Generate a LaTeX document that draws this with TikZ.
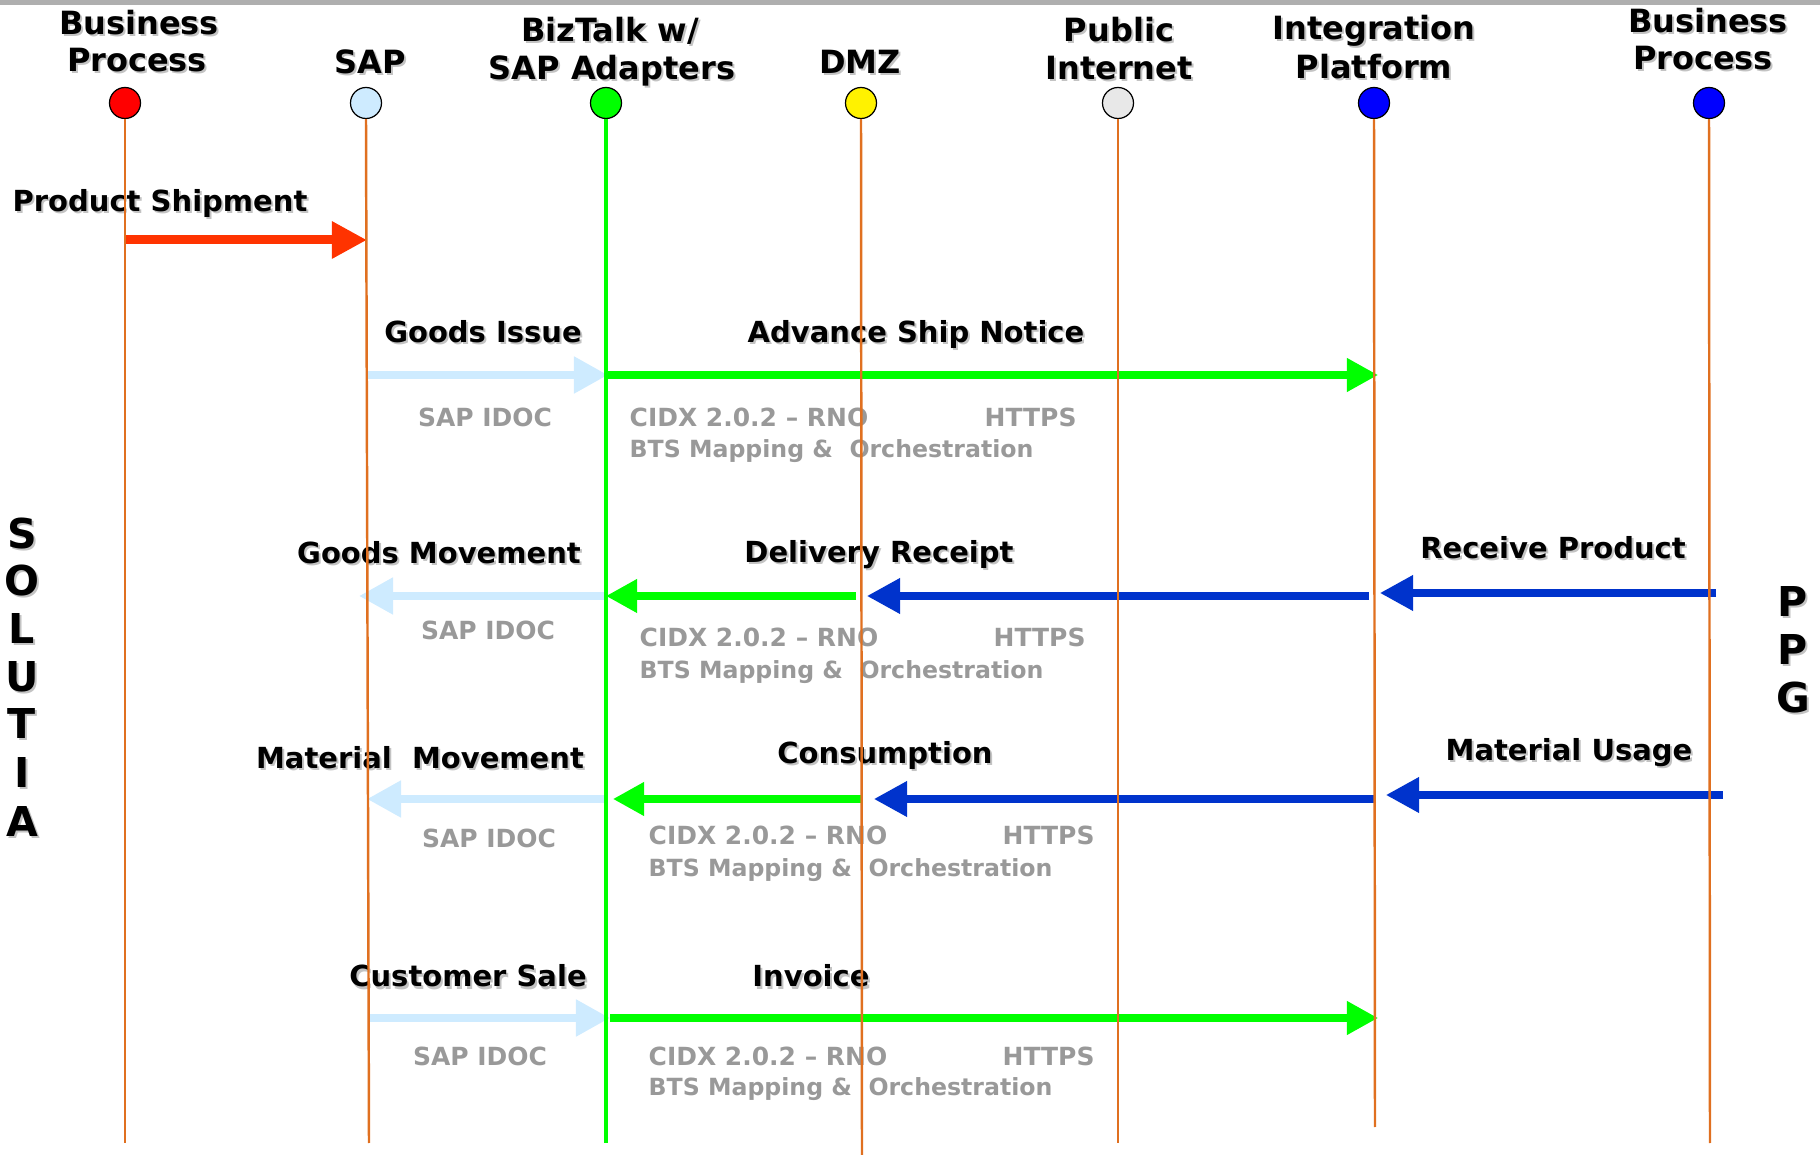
\documentclass[tikz,border=0pt]{standalone}
\usepackage{fontspec}
\setmainfont{DejaVu Sans}
\usetikzlibrary{arrows.meta}
\definecolor{lifec}{RGB}{224,112,32}
\definecolor{lbluec}{RGB}{206,235,255}
\definecolor{greenc}{RGB}{0,255,0}
\definecolor{bluec}{RGB}{0,51,204}
\definecolor{redc}{RGB}{255,51,0}
\definecolor{graytxt}{RGB}{153,153,153}
\definecolor{shd}{RGB}{195,195,195}
\definecolor{topbar}{RGB}{175,175,175}
\newcommand{\shtxt}[5]{%
  \node[#2,text=shd] at (#3+2,#4+2) {#5};
  \node[#2] (#1) at (#3,#4) {#5};}
\begin{document}
\begin{tikzpicture}[x=0.01cm,y=-0.01cm,
  hdr/.style={font=\fontsize{9.1}{11}\selectfont\bfseries, anchor=base, inner sep=0},
  lbl/.style={font=\fontsize{8.25}{10}\selectfont\bfseries, anchor=base, inner sep=0},
  gry/.style={font=\fontsize{7.1}{9}\selectfont\bfseries, text=graytxt, anchor=base west, inner sep=0},
  gryb/.style={gry, font=\fontsize{6.72}{9}\selectfont\bfseries},
  grc/.style={gry, anchor=base},
  side/.style={font=\fontsize{11.7}{14}\selectfont\bfseries, inner sep=0},
  dot/.style={circle, draw=black, line width=0.35pt, minimum size=0.31cm, inner sep=0},
  lifeline/.style={draw=lifec, line width=0.7pt},
  gline/.style={draw=greenc, line width=1.3pt},
  redarr/.style={draw=redc, line width=2.56pt, -{Triangle[length=0.35cm,width=0.35cm]}},
  lbarr/.style={draw=lbluec, line width=2.28pt, -{Triangle[length=0.34cm,width=0.35cm]}},
  garr/.style={draw=greenc, line width=2pt, -{Triangle[length=0.31cm,width=0.32cm]}},
  barr/.style={draw=bluec, line width=2pt, -{Triangle[length=0.33cm,width=0.34cm]}}
]
\useasboundingbox (0,0) rectangle (1820,1155);
\fill[topbar] (0,0) rectangle (1820,5.5);

% headers
\shtxt{h1a}{hdr}{139}{35}{Business}
\shtxt{h1b}{hdr}{137}{72}{Process}
\shtxt{h2}{hdr}{370}{74}{SAP}
\shtxt{h3a}{hdr}{610}{42}{BizTalk w/}
\shtxt{h3b}{hdr}{612}{80}{SAP Adapters}
\shtxt{h4}{hdr}{860}{74}{DMZ}
\shtxt{h5a}{hdr}{1119}{42}{Public}
\shtxt{h5b}{hdr}{1119}{80}{Internet}
\shtxt{h6a}{hdr}{1374}{40}{Integration}
\shtxt{h6b}{hdr}{1374}{79}{Platform}
\shtxt{h7a}{hdr}{1708}{33}{Business}
\shtxt{h7b}{hdr}{1703}{70}{Process}

% lifeline heads and ends
\node[dot, fill=red] (bp1) at (125,103) {};
\node[dot, fill=lbluec] (sap) at (366,103) {};
\node[dot, fill=greenc] (biz) at (606,103) {};
\node[dot, fill=yellow] (dmz) at (861,103) {};
\node[dot, fill=black!9] (pub) at (1118,103) {};
\node[dot, fill=blue] (intp) at (1374,103) {};
\node[dot, fill=blue] (bp2) at (1709,103) {};

\coordinate (bp1e) at (125,1143);
\coordinate (sape) at (369,1143);
\coordinate (bize) at (606,1143);
\coordinate (dmze) at (862,1155);
\coordinate (pube) at (1118,1143);
\coordinate (intpe) at (1375,1127);
\coordinate (bp2e) at (1710,1143);

% side labels
\foreach \ch/\yy [count=\i] in {S/534,O/581,L/629,U/677,T/724,I/773,A/822}{
  \node[side,text=shd] at (24,\yy+2) {\ch};
  \node[side] (sol\i) at (22,\yy) {\ch};
}
\foreach \ch/\yy [count=\i] in {P/602,P/650,G/698}{
  \node[side,text=shd] at (1795,\yy+2) {\ch};
  \node[side] (ppg\i) at (1793,\yy) {\ch};
}

% row 1
\shtxt{l1}{lbl}{160}{212}{Product Shipment}
\coordinate (a1s) at (125,240);
\coordinate (a1e) at (367,240);
\draw[redarr] (a1s) -- (a1e);

% row 2
\shtxt{l2a}{lbl}{483}{343}{Goods Issue}
\shtxt{l2b}{lbl}{916}{343}{Advance Ship Notice}
\coordinate (a2s) at (367,375);
\coordinate (a2m) at (608,375);
\coordinate (a2e) at (1378,375);
\draw[garr] (a2m) -- (a2e);
\draw[lbarr] (a2s) -- (a2m);
\node[grc] (g2a) at (485,427) {SAP IDOC};
\node[gry] (g2b) at (629,427) {CIDX 2.0.2 – RNO};
\node[gry] (g2c) at (984,427) {HTTPS};
\node[gryb] (g2d) at (629,458) {BTS Mapping \&\ \ Orchestration};

% row 3
\shtxt{l3a}{lbl}{439}{564}{Goods Movement}
\shtxt{l3b}{lbl}{879}{563}{Delivery Receipt}
\shtxt{l3c}{lbl}{1553}{559}{Receive Product}
\coordinate (a3a) at (1716,593);
\coordinate (a3b) at (1380,593);
\coordinate (a3c) at (1369,596);
\coordinate (a3d) at (867,596);
\coordinate (a3e) at (856,596);
\coordinate (a3f) at (606,596);
\coordinate (a3g) at (359,596);
\draw[barr] (a3a) -- (a3b);
\draw[barr] (a3c) -- (a3d);
\draw[garr] (a3e) -- (a3f);
\draw[lbarr] (a3f) -- (a3g);
\node[grc] (g3a) at (488,640) {SAP IDOC};
\node[gry] (g3b) at (639,647) {CIDX 2.0.2 – RNO};
\node[gry] (g3c) at (993,647) {HTTPS};
\node[gryb] (g3d) at (639,679) {BTS Mapping \&\ \ Orchestration};

% row 4
\shtxt{l4a}{lbl}{420}{769}{Material\ \ Movement}
\shtxt{l4b}{lbl}{885}{764}{Consumption}
\shtxt{l4c}{lbl}{1569}{761}{Material Usage}
\coordinate (a4a) at (1723,795);
\coordinate (a4b) at (1386,795);
\coordinate (a4c) at (1376,799);
\coordinate (a4d) at (874,799);
\coordinate (a4e) at (862,799);
\coordinate (a4f) at (613,799);
\coordinate (a4g) at (607,799);
\coordinate (a4h) at (367,799);
\draw[barr] (a4a) -- (a4b);
\draw[barr] (a4c) -- (a4d);
\draw[garr] (a4e) -- (a4f);
\draw[lbarr] (a4g) -- (a4h);
\node[grc] (g4a) at (489,847) {SAP IDOC};
\node[gry] (g4b) at (648,845) {CIDX 2.0.2 – RNO};
\node[gry] (g4c) at (1002,845) {HTTPS};
\node[gryb] (g4d) at (648,877) {BTS Mapping \&\ \ Orchestration};

% row 5
\shtxt{l5a}{lbl}{468}{987}{Customer Sale}
\shtxt{l5b}{lbl}{811}{987}{Invoice}
\coordinate (a5s) at (369,1018);
\coordinate (a5m) at (610,1018);
\coordinate (a5e) at (1378,1018);
\draw[garr] (a5m) -- (a5e);
\draw[lbarr] (a5s) -- (a5m);
\node[grc] (g5a) at (480,1066) {SAP IDOC};
\node[gry] (g5b) at (648,1065) {CIDX 2.0.2 – RNO};
\node[gry] (g5c) at (1002,1065) {HTTPS};
\node[gryb] (g5d) at (648,1095) {BTS Mapping \&\ \ Orchestration};

% lifelines drawn on top
\draw[lifeline] (bp1.south) -- (bp1e);
\draw[lifeline] (sap.south) -- (sape);
\draw[gline] (biz.south) -- (bize);
\draw[lifeline] (dmz.south) -- (dmze);
\draw[lifeline] (pub.south) -- (pube);
\draw[lifeline] (intp.south) -- (intpe);
\draw[lifeline] (bp2.south) -- (bp2e);
\end{tikzpicture}
\end{document}
